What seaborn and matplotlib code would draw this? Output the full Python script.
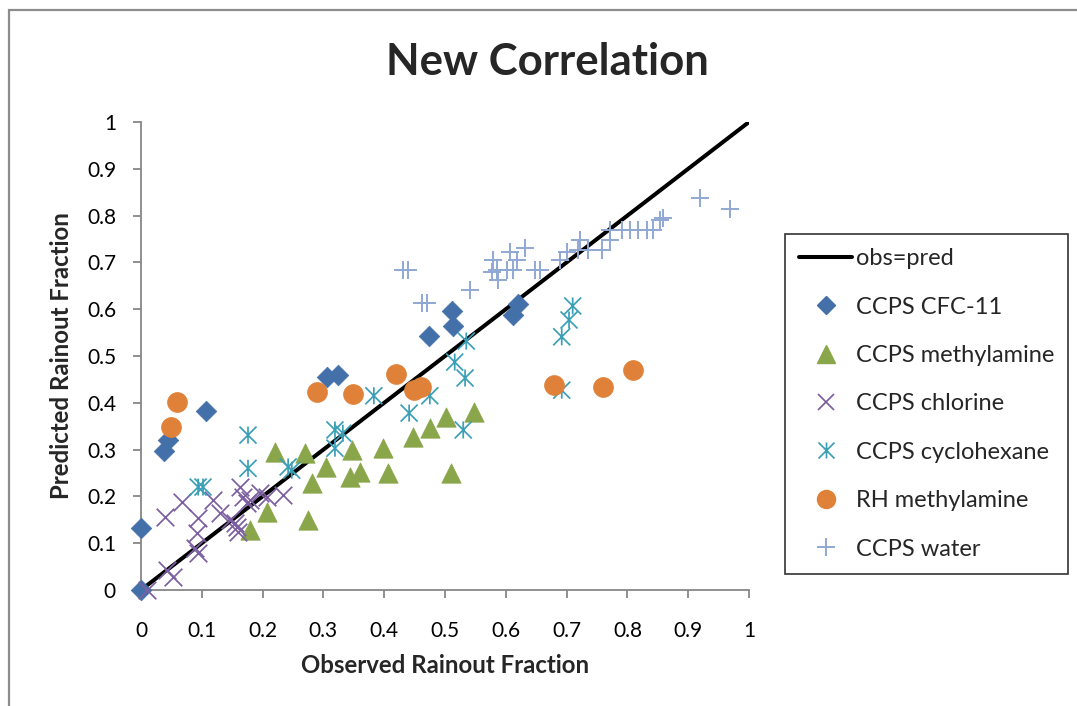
import numpy as np
import pandas as pd
import matplotlib
matplotlib.use("Agg")
import matplotlib.pyplot as plt
from matplotlib.path import Path
from matplotlib.lines import Line2D
from matplotlib.patches import Rectangle
import seaborn as sns

# ---------------- data ----------------
cfc11_x = [0, 0, 0.038, 0.044, 0.107, 0.306, 0.324, 0.474, 0.512, 0.513, 0.612, 0.620]
cfc11_y = [0, 0.132, 0.297, 0.320, 0.382, 0.455, 0.459, 0.543, 0.596, 0.564, 0.588, 0.611]

methyl_x = [0.179, 0.207, 0.220, 0.270, 0.275, 0.281, 0.304, 0.344, 0.347, 0.360,
            0.398, 0.406, 0.447, 0.475, 0.502, 0.510, 0.548]
methyl_y = [0.128, 0.167, 0.295, 0.293, 0.150, 0.229, 0.263, 0.242, 0.299, 0.252,
            0.303, 0.250, 0.327, 0.346, 0.370, 0.250, 0.380]

chlor_x = [0.010, 0.043, 0.053, 0.039, 0.067, 0.089, 0.094, 0.094, 0.092, 0.118,
           0.130, 0.146, 0.155, 0.158, 0.163, 0.168, 0.174, 0.179, 0.196, 0.207,
           0.234, 0.160]
chlor_y = [0.000, 0.043, 0.028, 0.156, 0.188, 0.090, 0.079, 0.154, 0.122, 0.192,
           0.164, 0.150, 0.143, 0.135, 0.220, 0.199, 0.186, 0.192, 0.207, 0.199,
           0.203, 0.124]

cyclo_x = [0.094, 0.102, 0.176, 0.176, 0.242, 0.248, 0.319, 0.332, 0.319, 0.383,
           0.441, 0.475, 0.530, 0.516, 0.533, 0.535, 0.710, 0.704, 0.692, 0.692]
cyclo_y = [0.220, 0.220, 0.331, 0.260, 0.263, 0.256, 0.342, 0.335, 0.303, 0.415,
           0.378, 0.415, 0.342, 0.487, 0.453, 0.532, 0.607, 0.577, 0.541, 0.427]

rh_x = [0.049, 0.059, 0.290, 0.349, 0.420, 0.449, 0.460, 0.680, 0.760, 0.810]
rh_y = [0.348, 0.402, 0.423, 0.419, 0.462, 0.427, 0.434, 0.438, 0.434, 0.470]

water_x = [0.431, 0.439, 0.462, 0.470, 0.541, 0.577, 0.579, 0.586, 0.587, 0.602,
           0.607, 0.612, 0.618, 0.632, 0.648, 0.656, 0.689, 0.700, 0.719, 0.722,
           0.735, 0.758, 0.771, 0.771, 0.791, 0.804, 0.817, 0.832, 0.842, 0.854,
           0.859, 0.919, 0.969]
water_y = [0.684, 0.684, 0.613, 0.613, 0.641, 0.679, 0.705, 0.684, 0.662, 0.684,
           0.722, 0.684, 0.705, 0.731, 0.684, 0.684, 0.705, 0.722, 0.726, 0.748,
           0.726, 0.726, 0.748, 0.769, 0.769, 0.769, 0.769, 0.769, 0.769, 0.790,
           0.795, 0.838, 0.814]

line_x = [0, 1]
line_y = [0, 1]

tick_vals = [0, 0.1, 0.2, 0.3, 0.4, 0.5, 0.6, 0.7, 0.8, 0.9, 1]
tick_labels = ["0", "0.1", "0.2", "0.3", "0.4", "0.5", "0.6", "0.7", "0.8", "0.9", "1"]

title = "New Correlation"
xlabel = "Observed Rainout Fraction"
ylabel = "Predicted Rainout Fraction"
legend_labels = ["obs=pred", "CCPS CFC-11", "CCPS methylamine", "CCPS chlorine",
                 "CCPS cyclohexane", "RH methylamine", "CCPS water"]

# ---------------- style ----------------
sns.set_theme(style="white")
plt.rcParams['font.family'] = ['Lato', 'DejaVu Sans']

c_blue = "#4470AA"
c_green = "#8AA64A"
c_purple = "#7C5FA0"
c_teal = "#3C9FB8"
c_orange = "#DF8138"
c_light = "#8FA8D3"
c_axis = "#878787"

star = Path([(0, -1), (0, 1), (-1, -1), (1, 1), (-1, 1), (1, -1)],
            [Path.MOVETO, Path.LINETO, Path.MOVETO, Path.LINETO, Path.MOVETO, Path.LINETO])

W, H = 1077, 706
fig = plt.figure(figsize=(W / 100, H / 100), dpi=100)
fig.patch.set_facecolor("white")

# outer chart border (extends past right / bottom edges)
fig.add_artist(Rectangle((9 / W, -0.05), 1.2, (H - 10) / H + 0.05, transform=fig.transFigure,
                         fill=False, edgecolor="#8C8C8C", linewidth=1.6))

ax = fig.add_axes([141 / W, (H - 590) / H, 608 / W, 468 / H])

sns.lineplot(x=line_x, y=line_y, ax=ax, color="black", linewidth=2.9, zorder=2)

common = dict(ax=ax, clip_on=False, legend=False)
sns.scatterplot(x=cfc11_x, y=cfc11_y, marker="D", s=110, color=c_blue, edgecolor=c_blue,
                linewidth=0.5, zorder=3, **common)
sns.scatterplot(x=methyl_x, y=methyl_y, marker="^", s=195, color=c_green, edgecolor=c_green,
                linewidth=0.5, zorder=3, **common)
sns.scatterplot(x=chlor_x, y=chlor_y, marker="x", s=160, color=c_purple, linewidth=1.25,
                zorder=3, **common)
sns.scatterplot(x=cyclo_x, y=cyclo_y, marker=star, s=150, facecolor="none", edgecolor=c_teal,
                linewidth=1.25, zorder=3, **common)
sns.scatterplot(x=rh_x, y=rh_y, marker="o", s=205, color=c_orange, edgecolor=c_orange,
                linewidth=0.5, zorder=3, **common)
sns.scatterplot(x=water_x, y=water_y, marker="+", s=175, color=c_light, linewidth=1.4,
                zorder=3, **common)

ax.set_xlim(0, 1)
ax.set_ylim(0, 1)
ax.set_xticks(tick_vals)
ax.set_xticklabels(tick_labels)
ax.set_yticks(tick_vals)
ax.set_yticklabels(tick_labels)
for sp in ["top", "right"]:
    ax.spines[sp].set_visible(False)
for sp in ["left", "bottom"]:
    ax.spines[sp].set_color(c_axis)
    ax.spines[sp].set_linewidth(1.3)
ax.tick_params(axis="both", which="major", direction="out", length=6, width=1.3,
               color=c_axis, labelsize=15, labelcolor="black")
ax.tick_params(axis="x", pad=16, bottom=True)
ax.tick_params(axis="y", pad=12, left=True)
ax.grid(False)

ax.set_xlabel(xlabel, fontsize=17.3, fontweight="bold", labelpad=10)
ax.set_ylabel(ylabel, fontsize=17.3, fontweight="bold", labelpad=10)
fig.text(547 / W, 1 - 62 / H, title, fontsize=31.5, fontweight="bold", ha="center", va="center")

handles = [
    Line2D([], [], color="black", linewidth=2.9),
    Line2D([], [], marker="D", color=c_blue, linestyle="none", markersize=9.5),
    Line2D([], [], marker="^", color=c_green, linestyle="none", markersize=12.5),
    Line2D([], [], marker="x", color=c_purple, linestyle="none", markersize=11.5, markeredgewidth=1.25),
    Line2D([], [], marker=star, color=c_teal, markerfacecolor="none", linestyle="none",
           markersize=11.5, markeredgewidth=1.25),
    Line2D([], [], marker="o", color=c_orange, linestyle="none", markersize=13),
    Line2D([], [], marker="+", color=c_light, linestyle="none", markersize=12.5, markeredgewidth=1.4),
]
leg = fig.legend(handles, legend_labels, loc="upper left", bbox_to_anchor=(785 / W, 1 - 234 / H),
                 frameon=True, fancybox=False, fontsize=17, handlelength=2.25,
                 labelspacing=1.16, borderpad=0.6, handletextpad=0.15, borderaxespad=0)
leg.get_frame().set_edgecolor("black")
leg.get_frame().set_linewidth(1.2)

fig.savefig("out.png", dpi=100)
